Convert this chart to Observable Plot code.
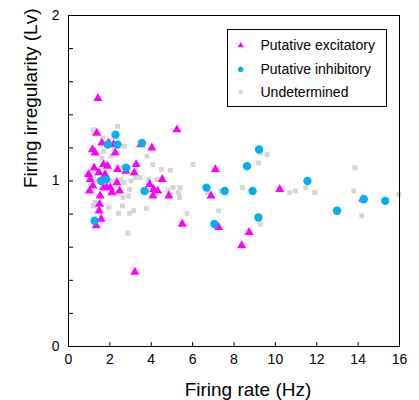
<!DOCTYPE html>
<html><head><meta charset="utf-8">
<script src="https://cdn.jsdelivr.net/npm/d3@7"></script>
<script src="https://cdn.jsdelivr.net/npm/@observablehq/plot@0.6"></script>
<style>body{margin:0;background:#fff;} svg{font-family:"Liberation Sans",Arial,sans-serif;}</style>
</head><body><div id="chart"></div>
<script>
const excitatory = [[1.42,1.50],[1.37,1.29],[5.24,1.31],[1.16,1.19],[1.29,1.17],[1.61,1.23],[1.94,1.23],[2.18,1.22],[2.26,1.17],[3.5,1.22],[4.03,1.20],[1.24,1.08],[1.69,1.10],[1.89,1.09],[1.47,1.05],[0.97,1.04],[1.05,1.01],[2.37,1.07],[1.77,1.04],[2.77,1.06],[3.18,1.05],[3.27,1.10],[4.53,1.01],[7.1,1.07],[1.02,0.94],[1.18,0.97],[1.69,0.96],[1.85,0.96],[2.02,0.96],[2.1,0.93],[2.34,0.99],[2.47,0.94],[3.92,0.98],[4.11,0.95],[4.08,0.91],[4.31,0.94],[4.85,0.91],[1.53,0.91],[1.50,0.86],[1.48,0.82],[1.58,0.77],[1.34,0.73],[5.5,0.74],[6.89,0.91],[7.26,0.72],[8.73,0.69],[8.37,0.61],[10.21,0.95],[14.23,0.89],[3.21,0.45]];
const inhibitory = [[2.27,1.28],[1.9,1.22],[2.37,1.22],[3.55,1.23],[9.21,1.19],[2.79,1.08],[8.63,1.09],[1.58,1.00],[1.82,1.01],[3.68,0.94],[6.67,0.96],[7.55,0.94],[8.9,0.94],[11.55,1.00],[1.26,0.76],[7.05,0.74],[9.18,0.78],[12.98,0.82],[14.27,0.89],[15.31,0.88]];
const undetermined = [[1.21,1.31],[1.24,1.29],[2.37,1.33],[1.65,1.26],[2.69,1.21],[1.69,1.18],[1.61,1.14],[2.05,1.15],[3.79,1.15],[4.07,1.10],[4.49,1.07],[4.92,1.065],[6.02,1.10],[2.53,1.08],[1.21,1.02],[1.37,1.00],[2.02,1.00],[2.53,1.01],[2.69,0.99],[3.02,1.00],[3.23,1.02],[3.47,1.02],[3.87,1.01],[4.28,1.01],[2.95,0.95],[5.05,0.96],[5.4,0.96],[5.32,0.93],[5.37,0.90],[4.81,0.944],[2.63,0.90],[2.9,0.91],[2.61,0.85],[1.21,0.85],[1.29,0.87],[1.94,0.84],[2.42,0.805],[2.95,0.805],[3.15,0.82],[3.76,0.835],[5.73,0.805],[2.87,0.685],[7.26,0.82],[8.42,0.96],[7.37,0.94],[6.72,0.93],[9.19,1.11],[9.27,1.17],[9.6,1.16],[9.27,0.74],[10.69,0.93],[10.97,0.94],[11.47,0.96],[11.9,0.93],[13.84,1.08],[13.79,0.94],[14.18,0.79],[15.97,0.92]];
const xTickLabels = [0,2,4,6,8,10,12,14,16];
const yTickLabels = [0,1,2];
const xTickMarks = [2,4,6,8,10,12,14];
const yTickMarks = [0.2,0.4,0.6,0.8,1,1.2,1.4,1.6,1.8];
const xTitle = "Firing rate (Hz)";
const yTitle = "Firing irregularity (Lv)";
const seriesNames = ["Putative excitatory","Putative inhibitory","Undetermined"];
const seriesColors = ["#ff00ff","#00b0f0","#d6d6d6"];

const W=419,H=400,mL=68,mR=20,mT=15,mB=54;
const plotW=W-mL-mR, plotH=H-mT-mB;
const chart = Plot.plot({
  width:W, height:H, marginLeft:mL, marginRight:mR, marginTop:mT, marginBottom:mB,
  style:{fontFamily:'"Liberation Sans",Arial,sans-serif', fontSize:"14px", color:"#000", background:"#fff"},
  x:{domain:[0,16]}, y:{domain:[0,2]},
  marks:[
    Plot.dot(undetermined,{x:d=>d[0],y:d=>d[1],symbol:"square",r:2.8,fill:seriesColors[2]}),
    Plot.dot(excitatory,{x:d=>d[0],y:d=>d[1],symbol:"triangle",r:3.4,fill:seriesColors[0]}),
    Plot.dot(inhibitory,{x:d=>d[0],y:d=>d[1],symbol:"circle",r:4.2,fill:seriesColors[1]}),
    Plot.ruleX(xTickMarks,{x:d=>d,insetTop:plotH-4,stroke:"#000"}),
    Plot.ruleY(yTickMarks,{y:d=>d,insetRight:plotW-5,stroke:"#000"}),
    Plot.frame({stroke:"#000"}),
    Plot.axisX(xTickLabels,{tickSize:0,tickPadding:8,fontSize:14,label:null,tickFormat:d=>String(d)}),
    Plot.axisY(yTickLabels,{tickSize:0,tickPadding:9,fontSize:14,label:null,tickFormat:d=>String(d)}),
    Plot.text([xTitle],{text:d=>d,frameAnchor:"bottom",dx:14,dy:43,fontSize:19,lineAnchor:"middle"}),
    Plot.text([yTitle],{text:d=>d,frameAnchor:"left",rotate:-90,dx:-38,dy:7,fontSize:19,lineAnchor:"middle"})
  ]
});
const svg = d3.select(chart);
const lg = svg.append("g").attr("text-anchor","start");
lg.append("rect").attr("x",227.5).attr("y",29.5).attr("width",159).attr("height",77).attr("fill","#fff").attr("stroke","#000");
const syms=[d3.symbolTriangle,d3.symbolCircle,d3.symbolSquare];
const sizes=[16,22,16];
const rowsY=[45.5,69.5,92];
seriesNames.forEach((n,i)=>{
  lg.append("path").attr("d",d3.symbol(syms[i],sizes[i])()).attr("transform",`translate(240.7,${rowsY[i]})`).attr("fill",seriesColors[i]).attr("stroke","none");
  lg.append("text").attr("x",260.5).attr("y",rowsY[i]).attr("dy","0.35em").attr("text-anchor","start").attr("font-size",14).attr("fill","#000").text(n);
});
document.getElementById("chart").appendChild(chart);
</script></body></html>
